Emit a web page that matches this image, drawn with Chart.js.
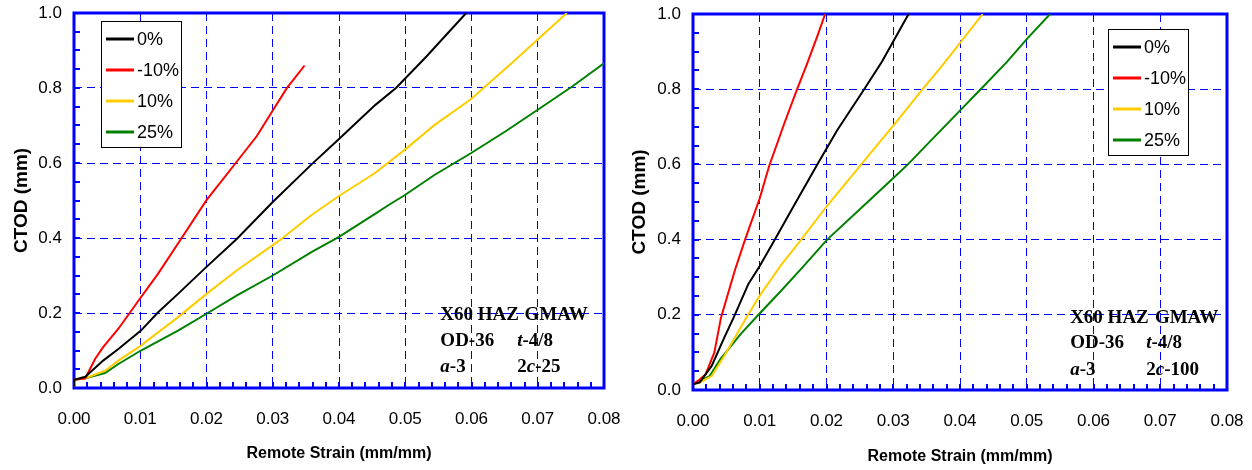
<!DOCTYPE html>
<html>
<head>
<meta charset="utf-8">
<script src="https://cdn.jsdelivr.net/npm/chart.js@4.4.1/dist/chart.umd.min.js"></script>
<style>
  body { margin: 0; background: #fff; }
  #wrap { position: relative; width: 1252px; height: 470px; }
  canvas { position: absolute; top: 0; }
  #left { left: 0; }
  #right { left: 620px; }
</style>
</head>
<body>
<div id="wrap">
  <canvas id="left" width="620" height="470"></canvas>
  <canvas id="right" width="632" height="470"></canvas>
</div>
<script>
// series names and colours
var seriesLabels = ['0%', '-10%', '10%', '25%'];
var seriesColors = ['#000000', '#ff0000', '#ffcc00', '#008000'];

// left panel (2c-25): [remote strain, CTOD]
var left0 = [[0, 0.005], [0, 0.022], [0.0017, 0.030], [0.0044, 0.073], [0.0067, 0.104], [0.0101, 0.153], [0.0127, 0.202],
  [0.0157, 0.251], [0.0200, 0.323], [0.0246, 0.398], [0.0300, 0.496], [0.0359, 0.597], [0.0400, 0.664],
  [0.0455, 0.755], [0.0486, 0.800], [0.0532, 0.884], [0.0562, 0.942], [0.0592, 1.0]];
var leftM10 = [[0, 0.005], [0, 0.022], [0.0017, 0.026], [0.0032, 0.078], [0.0044, 0.109], [0.0067, 0.158], [0.0101, 0.242],
  [0.0127, 0.305], [0.0161, 0.396], [0.0200, 0.501], [0.0245, 0.602], [0.0276, 0.672], [0.0300, 0.740],
  [0.0321, 0.799], [0.0348, 0.860]];
var left10 = [[0, 0.005], [0, 0.022], [0.0017, 0.026], [0.0047, 0.046], [0.0067, 0.073], [0.0101, 0.113], [0.0157, 0.189],
  [0.0200, 0.251], [0.0246, 0.314], [0.0300, 0.381], [0.0315, 0.400], [0.0359, 0.462], [0.0400, 0.512],
  [0.0455, 0.574], [0.0499, 0.635], [0.0544, 0.701], [0.0599, 0.770], [0.0663, 0.870],
  [0.0699, 0.928], [0.0744, 1.0]];
var left25 = [[0, 0.005], [0, 0.022], [0.0017, 0.026], [0.0047, 0.040], [0.0067, 0.064], [0.0101, 0.100], [0.0157, 0.153],
  [0.0200, 0.198], [0.0246, 0.247], [0.0300, 0.300], [0.0359, 0.363], [0.0400, 0.403], [0.0455, 0.465],
  [0.0475, 0.488], [0.0499, 0.514], [0.0544, 0.568], [0.0599, 0.626], [0.0651, 0.684], [0.0700, 0.742],
  [0.0752, 0.804], [0.0800, 0.866]];

// right panel (2c-100)
var right0 = [[0, 0.005], [0, 0.015], [0.0010, 0.020], [0.0028, 0.064], [0.0047, 0.140], [0.0061, 0.193], [0.0083, 0.282],
  [0.0100, 0.330], [0.0122, 0.398], [0.0153, 0.496], [0.0186, 0.599], [0.0216, 0.691], [0.0255, 0.796],
  [0.0283, 0.873], [0.0301, 0.930], [0.0323, 1.0]];
var rightM10 = [[0, 0.005], [0, 0.015], [0.0010, 0.028], [0.0019, 0.042], [0.0032, 0.100], [0.0042, 0.193], [0.0063, 0.320],
  [0.0078, 0.400], [0.0100, 0.510], [0.0114, 0.595], [0.0137, 0.710], [0.0156, 0.800], [0.0171, 0.868],
  [0.0186, 0.940], [0.0198, 1.0]];
var right10 = [[0, 0.005], [0, 0.015], [0.0010, 0.020], [0.0028, 0.037], [0.0047, 0.091], [0.0080, 0.193], [0.0100, 0.251],
  [0.0131, 0.330], [0.0162, 0.400], [0.0201, 0.490], [0.0252, 0.600], [0.0301, 0.705], [0.0344, 0.800],
  [0.0373, 0.862], [0.0401, 0.925], [0.0434, 1.0]];
var right25 = [[0, 0.005], [0, 0.015], [0.0010, 0.024], [0.0025, 0.037], [0.0041, 0.082], [0.0071, 0.148], [0.0098, 0.200],
  [0.0131, 0.262], [0.0162, 0.322], [0.0201, 0.400], [0.0252, 0.484], [0.0301, 0.565], [0.0322, 0.600],
  [0.0349, 0.650], [0.0401, 0.745], [0.0431, 0.800], [0.0470, 0.872], [0.0501, 0.935], [0.0535, 1.0]];

// annotation text: [x value, y value, runs]
var notesLeft = [
  [0.0553, 0.195, [['X60 HAZ', 0]]], [0.0680, 0.195, [['GMAW', 0]]],
  [0.0553, 0.126, [['OD-36', 0]]], [0.0669, 0.126, [['t', 1], ['-4/8', 0]]],
  [0.0553, 0.057, [['a', 1], ['-3', 0]]], [0.0669, 0.057, [['2', 0], ['c', 1], ['-25', 0]]]
];
var notesRight = [
  [0.0565, 0.190, [['X60 HAZ', 0]]], [0.0692, 0.190, [['GMAW', 0]]],
  [0.0565, 0.124, [['OD-36', 0]]], [0.0679, 0.124, [['t', 1], ['-4/8', 0]]],
  [0.0565, 0.053, [['a', 1], ['-3', 0]]], [0.0679, 0.053, [['2', 0], ['c', 1], ['-100', 0]]]
];

var BLUE = '#0000ff';

// frame, inward minor ticks, legend box and notes
var decor = {
  id: 'decor',
  beforeDatasetsDraw: function (chart) {
    var ctx = chart.ctx, a = chart.chartArea;
    var xs = chart.scales.x, ys = chart.scales.y;
    ctx.save();
    ctx.strokeStyle = BLUE;
    ctx.lineWidth = 2;
    for (var i = 0; i <= 20; i++) {
      var py = Math.round(ys.getPixelForValue(i * 0.05));
      ctx.beginPath(); ctx.moveTo(a.left, py); ctx.lineTo(a.left + 6, py); ctx.stroke();
    }
    for (var j = 0; j <= 40; j++) {
      var px = Math.round(xs.getPixelForValue(j * 0.002));
      ctx.beginPath(); ctx.moveTo(px, a.bottom); ctx.lineTo(px, a.bottom - 6); ctx.stroke();
    }
    ctx.lineWidth = 3;
    ctx.strokeRect(a.left, a.top, a.right - a.left, a.bottom - a.top);
    ctx.restore();
  },
  afterDatasetsDraw: function (chart, args, opts) {
    var ctx = chart.ctx, a = chart.chartArea;
    var xs = chart.scales.x, ys = chart.scales.y;
    ctx.save();
    // legend
    var bx = a.left + opts.legendX, by = a.top + opts.legendY;
    ctx.fillStyle = '#fff';
    ctx.fillRect(bx, by, 80, 126);
    ctx.strokeStyle = '#000';
    ctx.lineWidth = 1;
    ctx.strokeRect(bx + 0.5, by + 0.5, 80, 126);
    ctx.font = '18px "Liberation Sans", Arial, sans-serif';
    ctx.textBaseline = 'middle';
    chart.data.datasets.forEach(function (ds, k) {
      var ry = by + 18 + k * 31;
      ctx.strokeStyle = ds.borderColor;
      ctx.lineWidth = 3;
      ctx.beginPath(); ctx.moveTo(bx + 5, ry); ctx.lineTo(bx + 33, ry); ctx.stroke();
      ctx.fillStyle = '#000';
      ctx.fillText(ds.label, bx + 36, ry + 1);
    });
    // notes
    opts.notes.forEach(function (n) {
      var x = xs.getPixelForValue(n[0]);
      var y = ys.getPixelForValue(n[1]);
      n[2].forEach(function (r) {
        ctx.font = (r[1] ? 'italic ' : '') + 'bold 19px "Liberation Serif", "Times New Roman", serif';
        ctx.fillText(r[0], x, y);
        x += ctx.measureText(r[0]).width;
      });
    });
    ctx.restore();
  }
};

function makeChart(id, series, notes, geo) {
  return new Chart(document.getElementById(id), {
    type: 'line',
    data: {
      datasets: series.map(function (s, k) {
        return {
          label: seriesLabels[k],
          data: s.map(function (p) { return { x: p[0], y: p[1] }; }),
          borderColor: seriesColors[k],
          borderWidth: 2,
          pointRadius: 0,
          tension: 0,
          fill: false
        };
      })
    },
    options: {
      responsive: false,
      animation: false,
      layout: { padding: { left: 0, top: geo.top, right: geo.right, bottom: 0 } },
      plugins: {
        legend: { display: false },
        tooltip: { enabled: false },
        decor: { legendX: geo.legendX, legendY: geo.legendY, notes: notes }
      },
      scales: {
        x: {
          type: 'linear', min: 0, max: 0.08,
          afterFit: function (s) { s.height = geo.xh; s.paddingLeft = 0; s.paddingRight = 0; },
          ticks: {
            stepSize: 0.01, padding: 21, color: '#000', maxRotation: 0,
            font: { family: '"Liberation Sans", Arial, sans-serif', size: 17 },
            callback: function (v) { return v.toFixed(2); }
          },
          grid: { color: BLUE, lineWidth: 1, drawTicks: false },
          border: { display: false, dash: [8, 5] },
          title: {
            display: true, text: 'Remote Strain (mm/mm)', color: '#000',
            font: { family: '"Liberation Sans", Arial, sans-serif', size: 16, weight: 'bold' },
            padding: { top: 0, bottom: geo.xtp }
          }
        },
        y: {
          min: 0, max: 1,
          afterFit: function (s) { s.width = geo.yw; s.paddingTop = 0; s.paddingBottom = 0; },
          ticks: {
            stepSize: 0.2, padding: 12, color: '#000',
            font: { family: '"Liberation Sans", Arial, sans-serif', size: 17 },
            callback: function (v) { return v.toFixed(1); }
          },
          grid: { color: BLUE, lineWidth: 1, drawTicks: false },
          border: { display: false, dash: [8, 5] },
          title: {
            display: true, text: 'CTOD (mm)', color: '#000',
            font: { family: '"Liberation Sans", Arial, sans-serif', size: 19, weight: 'bold' },
            padding: { top: geo.ytp, bottom: 0 }
          }
        }
      }
    },
    plugins: [decor]
  });
}

makeChart('left', [left0, leftM10, left10, left25], notesLeft,
  { top: 13, right: 16, xh: 82, yw: 74, xtp: 7, ytp: 10, legendX: 27, legendY: 8 });
makeChart('right', [right0, rightM10, right10, right25], notesRight,
  { top: 14, right: 25, xh: 80, yw: 73, xtp: 4, ytp: 8, legendX: 415, legendY: 15 });
</script>
</body>
</html>
